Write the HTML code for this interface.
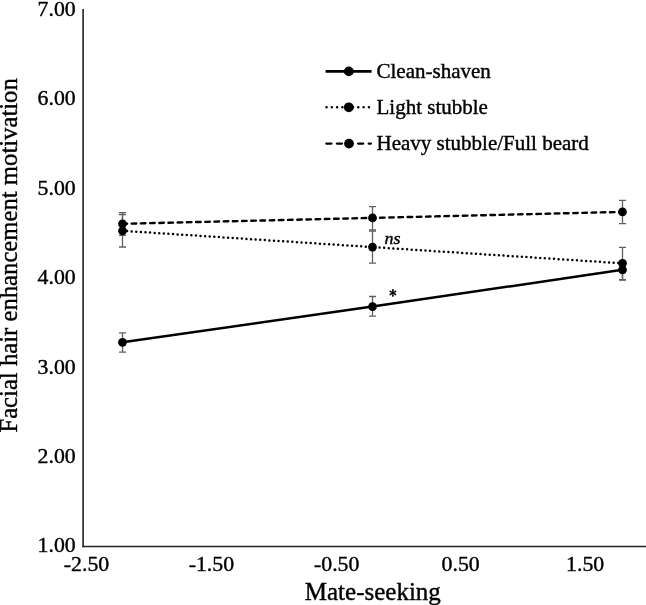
<!DOCTYPE html>
<html><head><meta charset="utf-8">
<style>
html,body{margin:0;padding:0;background:#fff;}
body{width:646px;height:605px;overflow:hidden;}
svg{display:block;will-change:transform;}
text{font-family:"Liberation Serif",serif;fill:#000;stroke:#000;stroke-width:0.4px;}
</style></head>
<body>
<svg width="646" height="605" viewBox="0 0 646 605">
<rect width="646" height="605" fill="#fff"/>
<!-- axes -->
<line x1="83.1" y1="9" x2="83.1" y2="547.3" stroke="#222" stroke-width="1.6"/>
<line x1="82.3" y1="546.5" x2="646" y2="546.5" stroke="#222" stroke-width="1.6"/>
<!-- y tick labels -->
<g font-size="21.8" text-anchor="end">
<text x="75.7" y="15.9">7.00</text>
<text x="75.7" y="105.3">6.00</text>
<text x="75.7" y="194.7">5.00</text>
<text x="75.7" y="284.2">4.00</text>
<text x="75.7" y="373.6">3.00</text>
<text x="75.7" y="463.0">2.00</text>
<text x="75.7" y="552.4">1.00</text>
</g>
<!-- x tick labels -->
<g font-size="21.8" text-anchor="middle">
<text x="86.5" y="571.0">-2.50</text>
<text x="211.4" y="571.0">-1.50</text>
<text x="336.7" y="571.0">-0.50</text>
<text x="460.7" y="571.0">0.50</text>
<text x="585.2" y="571.0">1.50</text>
</g>
<!-- axis titles -->
<text x="372.8" y="599.9" font-size="25" text-anchor="middle">Mate-seeking</text>
<text transform="translate(17.0,255.4) rotate(-90)" font-size="24.7" text-anchor="middle">Facial hair enhancement motivation</text>

<!-- error bars -->
<g stroke="#606060" stroke-width="1.3" fill="none">
<!-- clean -->
<path d="M122.5 332.8V352.2M119 332.8H126M119 352.2H126"/>
<path d="M372.5 296.5V316.1M369 296.5H376M369 316.1H376"/>
<path d="M622.5 262V280.0M619 280.0H626"/>
<!-- light -->
<path d="M122.5 214.5V247M119 214.5H126M119 247H126"/>
<path d="M372.5 231.0V263.1M369 231.0H376M369 263.1H376"/>
<path d="M622.5 247.4V279.7M619 247.4H626M619 279.7H626"/>
<!-- heavy -->
<path d="M122.5 212.6V235.3M119 212.6H126M119 235.3H126"/>
<path d="M372.5 206.6V229.9M369 206.6H376M369 229.9H376"/>
<path d="M622.5 200.4V223.6M619 200.4H626M619 223.6H626"/>
</g>

<!-- series lines -->
<g fill="none" stroke="#000" stroke-width="2.5">
<path d="M122.5 342.3L372.5 306.6L622.5 269.8"/>
<path d="M122.5 230.8L372.5 247.1L622.5 263.3" stroke-dasharray="0 4.6" stroke-linecap="round" stroke-width="2.5"/>
<path d="M122.5 223.8L372.5 217.9L622.5 211.9" stroke-dasharray="4.6 4.6" stroke-linecap="round" stroke-width="2.4"/>
</g>
<!-- markers -->
<g fill="#000">
<circle cx="122.5" cy="342.3" r="4.4"/><circle cx="372.5" cy="306.6" r="4.4"/><circle cx="622.5" cy="269.8" r="4.4"/>
<circle cx="122.5" cy="230.8" r="4.4"/><circle cx="372.5" cy="247.1" r="4.4"/><circle cx="622.5" cy="263.3" r="4.4"/>
<circle cx="122.5" cy="223.8" r="4.4"/><circle cx="372.5" cy="217.9" r="4.4"/><circle cx="622.5" cy="211.9" r="4.4"/>
</g>

<!-- annotations -->
<text transform="translate(384.6,244.4) scale(1,0.88)" font-size="18" font-style="italic">ns</text>
<g stroke="#000" stroke-width="1.1" stroke-linecap="round"><path d="M392.9 290.1V295.7M390.5 291.5L395.3 294.3M390.5 294.3L395.3 291.5"/></g>
<g fill="#000"><circle cx="392.9" cy="292.9" r="1.3"/><circle cx="392.9" cy="289.9" r="0.9"/><circle cx="392.9" cy="295.8" r="0.9"/><circle cx="390.4" cy="291.4" r="0.9"/><circle cx="390.4" cy="294.4" r="0.9"/><circle cx="395.4" cy="291.4" r="0.9"/><circle cx="395.4" cy="294.4" r="0.9"/></g>

<!-- legend -->
<g fill="none" stroke="#000" stroke-width="2.3">
<path d="M325.6 71.4H371.6" stroke-width="2.6"/>
<path d="M326.5 107.3H370" stroke-dasharray="0 5.3" stroke-linecap="round" stroke-width="2.5"/>
<path d="M326.3 143.6H370.9" stroke-dasharray="5.1 5.5" stroke-linecap="round"/>
</g>
<g fill="#000">
<circle cx="348.8" cy="71.4" r="4.9"/>
<circle cx="348.8" cy="107.3" r="4.9"/>
<circle cx="349" cy="143.6" r="4.9"/>
</g>
<g font-size="21">
<text x="376.5" y="77.9">Clean-shaven</text>
<text x="376.5" y="113.9">Light stubble</text>
<text x="376.5" y="149.9">Heavy stubble/Full beard</text>
</g>
</svg>
</body></html>
